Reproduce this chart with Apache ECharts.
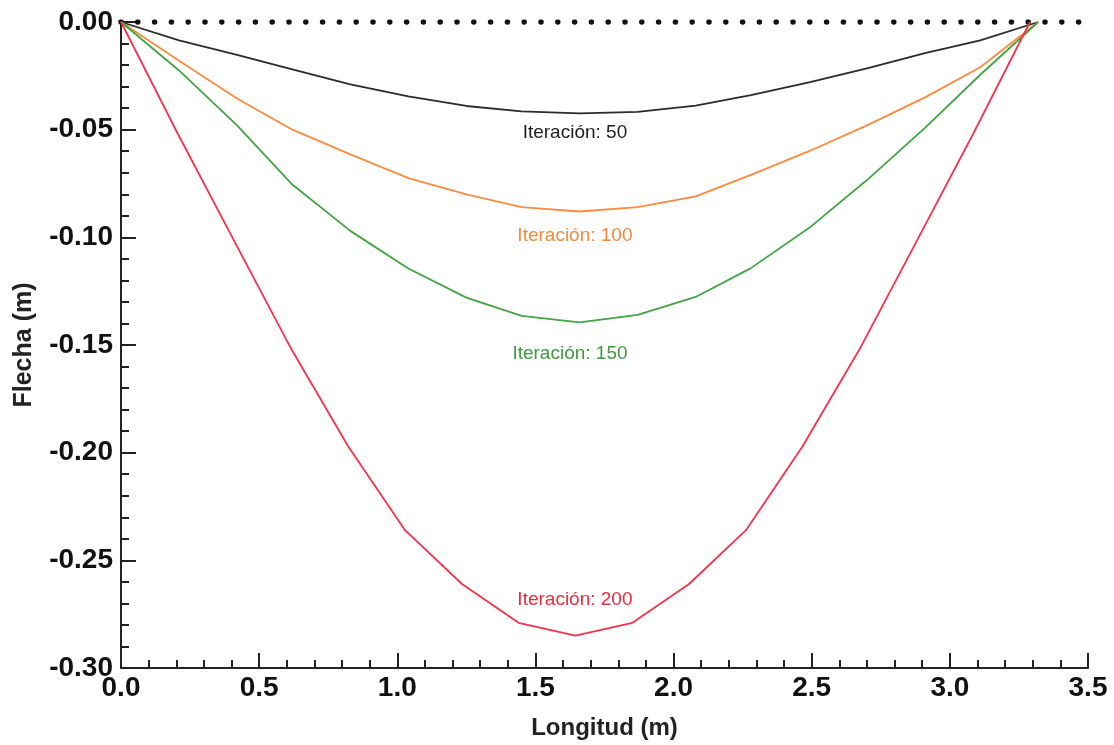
<!DOCTYPE html>
<html lang="es">
<head>
    <meta charset="UTF-8">
    <title>Flecha vs Longitud</title>
    <script src="https://cdn.jsdelivr.net/npm/echarts@6/dist/echarts.min.js"></script>
</head>
<body style="margin:0;background:#fff;">
    <div id="main" style="width:1114px;height:745px;"></div>
    <script type="text/javascript">
    // nodos del cable (m)
    var xNodos = [0, 0.21, 0.42, 0.62, 0.83, 1.04, 1.25, 1.45, 1.66, 1.87, 2.08, 2.28, 2.49, 2.70, 2.91, 3.11, 3.32];
    var xNodosRojo = [0, 0.206, 0.411, 0.617, 0.822, 1.028, 1.234, 1.439, 1.645, 1.851, 2.056, 2.262, 2.467, 2.673, 2.879, 3.084, 3.29];

    // flecha por iteracion (m)
    var iter50  = [0, -0.0085, -0.0153, -0.022, -0.029, -0.0345, -0.039, -0.0415, -0.0424, -0.0417, -0.0388, -0.034, -0.028, -0.0215, -0.0145, -0.0085, 0];
    var iter100 = [0, -0.018, -0.0355, -0.050, -0.0615, -0.0725, -0.080, -0.086, -0.088, -0.086, -0.081, -0.071, -0.060, -0.048, -0.035, -0.021, 0];
    var iter150 = [0, -0.0225, -0.048, -0.0755, -0.097, -0.1145, -0.128, -0.1365, -0.1395, -0.136, -0.1277, -0.1143, -0.0957, -0.0734, -0.0492, -0.0245, 0];
    var iter200 = [0, -0.052, -0.102, -0.152, -0.197, -0.236, -0.261, -0.279, -0.285, -0.279, -0.261, -0.236, -0.197, -0.152, -0.102, -0.052, 0];

    var nombres = ['Iteración: 50', 'Iteración: 100', 'Iteración: 150', 'Iteración: 200'];
    var etiquetaX = [1.643, 1.643, 1.625, 1.643];
    var etiquetaY = [-0.0516, -0.0994, -0.154, -0.2685];
    var colores = ['#2b2b2b', '#ff8a3d', '#43a443', '#f5334b'];
    var coloresTexto = ['#1e1e1e', '#f58a3e', '#3c9a3c', '#ec2c3f'];

    var zeroX = [0, 3.5];
    var zeroY = [0, 0];

    function pares(xs, ys) {
        var out = [];
        for (var i = 0; i < xs.length; i++) out.push([xs[i], ys[i]]);
        return out;
    }

    var fuente = 'Liberation Sans, Arial, sans-serif';
    var datos = [iter50, iter100, iter150, iter200];
    var series = [];

    series.push({
        name: 'cero',
        type: 'line',
        data: pares(zeroX, zeroY),
        showSymbol: false,
        silent: true,
        lineStyle: { color: '#111', width: 5.5, type: [0, 16.8], cap: 'round' },
        z: 1
    });

    for (var k = 0; k < datos.length; k++) {
        series.push({
            name: nombres[k],
            type: 'line',
            data: pares(k === 3 ? xNodosRojo : xNodos, datos[k]),
            showSymbol: false,
            lineStyle: { color: colores[k], width: 1.8 },
            z: 2 + k,
            markPoint: {
                symbol: 'circle',
                symbolSize: 1,
                itemStyle: { color: 'transparent' },
                label: {
                    show: true,
                    position: 'inside',
                    formatter: nombres[k],
                    color: coloresTexto[k],
                    fontFamily: fuente,
                    fontSize: 19
                },
                data: [{ coord: [etiquetaX[k], etiquetaY[k]] }]
            }
        });
    }

    var myChart = echarts.init(document.getElementById('main'));
    var option = {
        animation: false,
        backgroundColor: '#fff',
        grid: { left: 121, right: 26, top: 22, bottom: 76 },
        xAxis: {
            type: 'value',
            min: 0,
            max: 3.5,
            interval: 0.5,
            name: 'Longitud (m)',
            nameLocation: 'middle',
            nameGap: 48,
            nameTextStyle: { fontFamily: fuente, fontSize: 24, fontWeight: 'bold', color: '#222' },
            axisLine: { onZero: false, lineStyle: { color: '#222', width: 2 } },
            axisTick: { inside: true, length: 15, lineStyle: { color: '#222', width: 2 } },
            minorTick: { show: true, splitNumber: 5, length: 8, lineStyle: { color: '#222', width: 2 } },
            splitLine: { show: false },
            axisLabel: {
                fontFamily: fuente, fontSize: 28, fontWeight: 'bold', color: '#111', margin: 6,
                formatter: function (v) { return v.toFixed(1); }
            }
        },
        yAxis: {
            type: 'value',
            min: -0.3,
            max: 0,
            interval: 0.05,
            name: 'Flecha (m)',
            nameLocation: 'middle',
            nameGap: 84,
            nameTextStyle: { fontFamily: fuente, fontSize: 25, fontWeight: 'bold', color: '#222' },
            axisLine: { onZero: false, lineStyle: { color: '#222', width: 2 } },
            axisTick: { inside: true, length: 15, lineStyle: { color: '#222', width: 2 } },
            minorTick: { show: true, splitNumber: 5, length: 8, lineStyle: { color: '#222', width: 2 } },
            splitLine: { show: false },
            axisLabel: {
                fontFamily: fuente, fontSize: 28, fontWeight: 'bold', color: '#111', margin: 8,
                formatter: function (v) { return v.toFixed(2); }
            }
        },
        series: series
    };
    myChart.setOption(option);
    </script>
</body>
</html>
